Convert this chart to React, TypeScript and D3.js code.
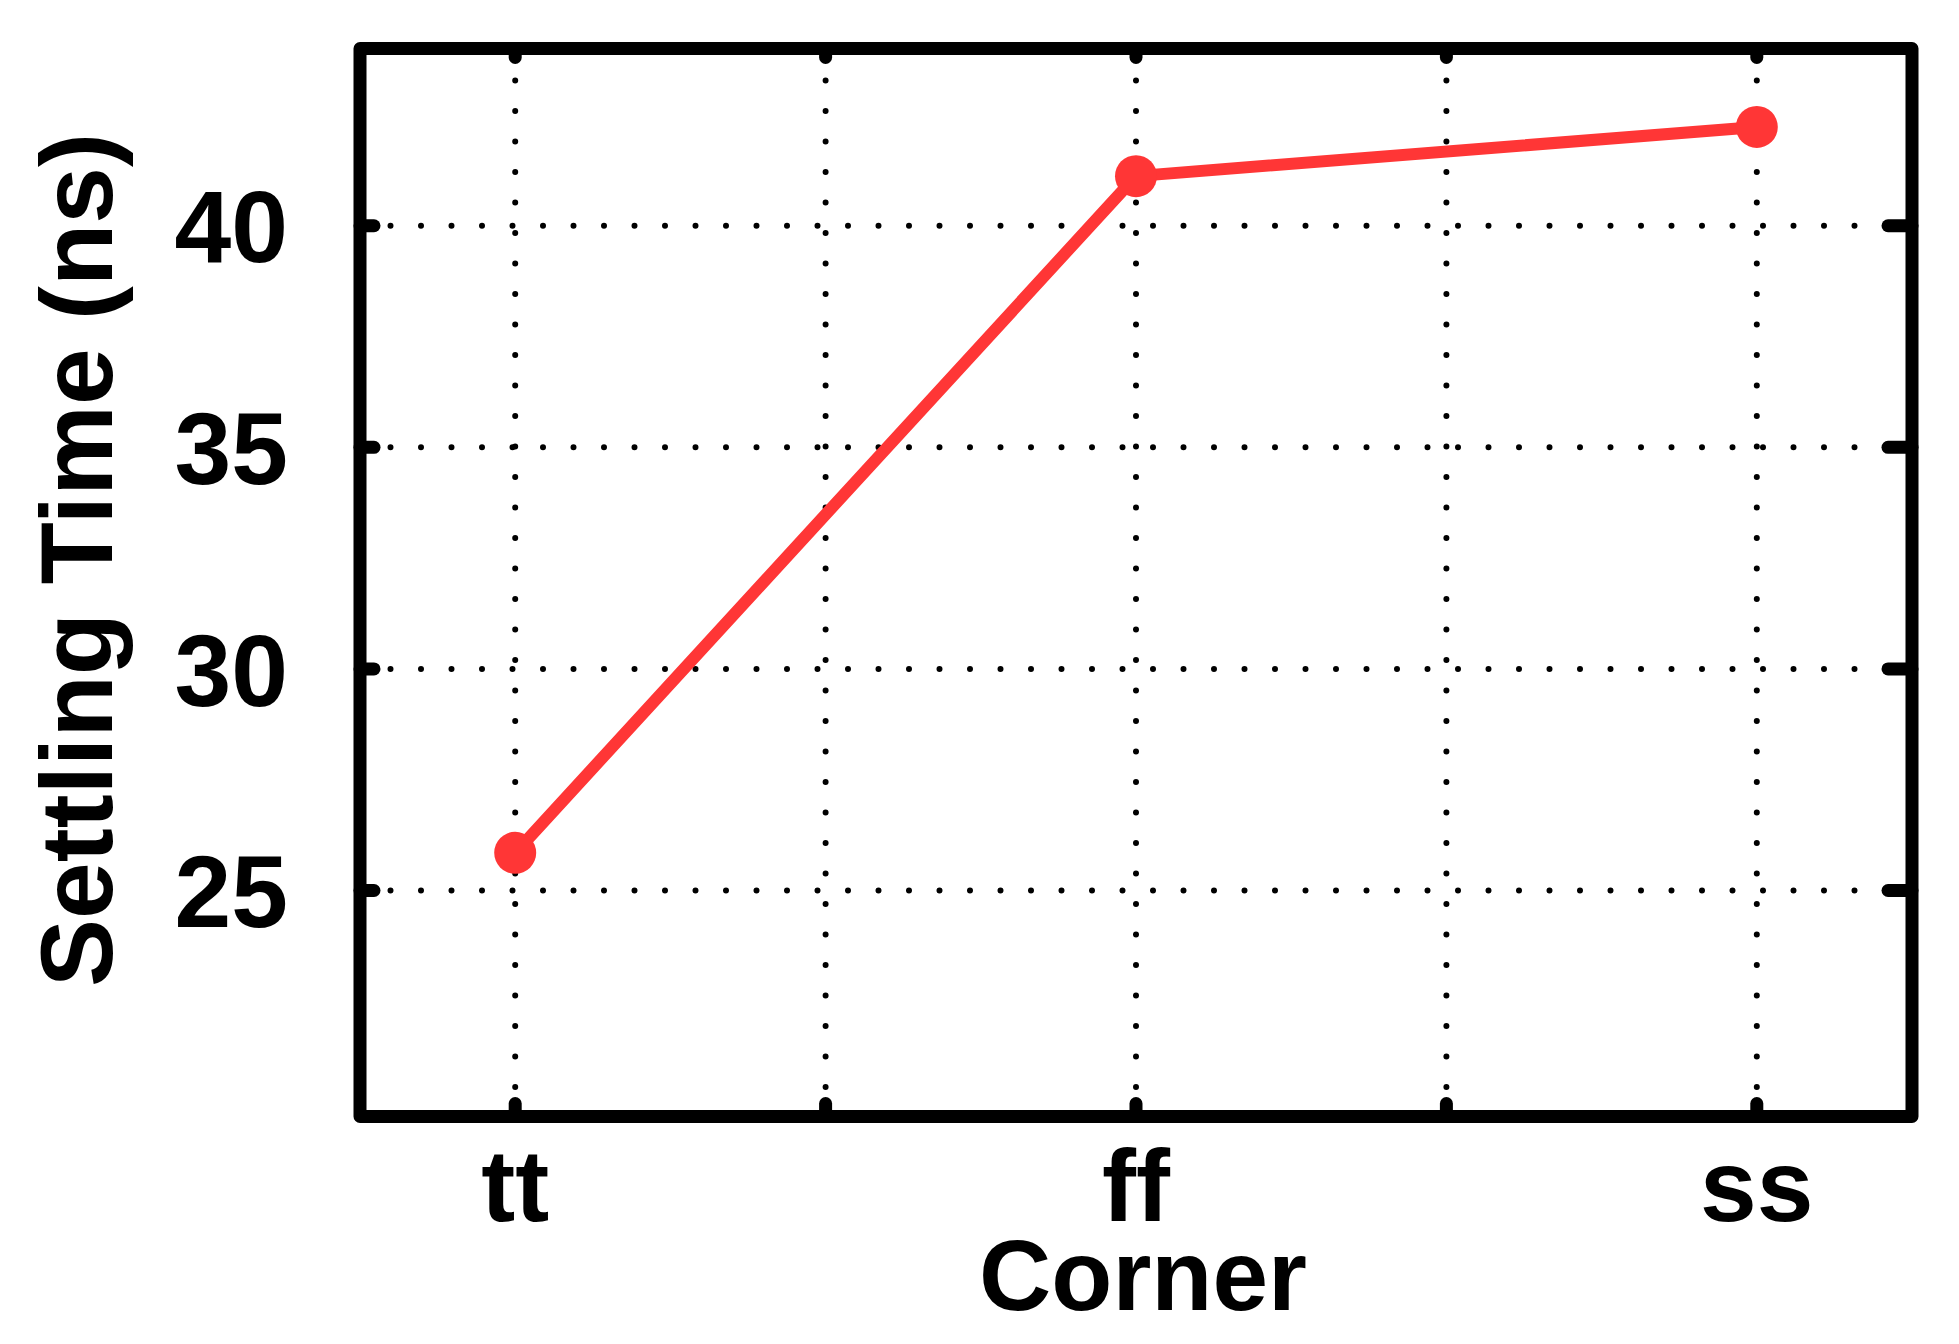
import React from 'react';
import * as d3 from 'd3';

// corner names and settling time in ns
const corners = ['tt', 'ff', 'ss'];
const settlingNs = [25.85, 41.12, 42.23];
const yTicks = [25, 30, 35, 40];
const xGridTicks = [1, 1.5, 2, 2.5, 3];

const W = 1959;
const H = 1344;
const left = 360, right = 1912, top = 48.5, bottom = 1116.5;
const font = '"Liberation Sans", Arial, sans-serif';
const red = '#ff3636';

const App = () => {
  const x = d3.scaleLinear().domain([0.75, 3.25]).range([left, right]);
  const y = d3.scaleLinear().domain([19.9, 44]).range([bottom, top]);

  const pts = settlingNs.map((v, i) => [x(i + 1), y(v)] as [number, number]);
  const line = d3.line()(pts) || '';

  return (
    <svg width={W} height={H} style={{ position: 'absolute', left: 0, top: 0, background: '#fff' }}>
      {/* dotted grid */}
      {xGridTicks.map(t => (
        <line key={'gx' + t} x1={x(t)} x2={x(t)} y1={top + 1.5} y2={bottom}
          stroke="#000" strokeWidth={6} strokeLinecap="round" strokeDasharray="0 30.5" />
      ))}
      {yTicks.map(t => (
        <line key={'gy' + t} x1={left} x2={right} y1={y(t)} y2={y(t)}
          stroke="#000" strokeWidth={6} strokeLinecap="round" strokeDasharray="0 30.5" />
      ))}

      {/* ticks, inward on all four sides */}
      {xGridTicks.map(t => (
        <g key={'tx' + t} stroke="#000" strokeWidth={13} strokeLinecap="round">
          <line x1={x(t)} x2={x(t)} y1={bottom} y2={bottom - 13} />
          <line x1={x(t)} x2={x(t)} y1={top} y2={top + 9} />
        </g>
      ))}
      {yTicks.map(t => (
        <g key={'ty' + t} stroke="#000" strokeWidth={13} strokeLinecap="round">
          <line x1={left} x2={left + 14} y1={y(t)} y2={y(t)} />
          <line x1={right} x2={right - 24} y1={y(t)} y2={y(t)} />
        </g>
      ))}

      {/* box */}
      <rect x={left} y={top} width={right - left} height={bottom - top}
        fill="none" stroke="#000" strokeWidth={13} strokeLinejoin="round" />

      {/* series */}
      <path d={line} fill="none" stroke={red} strokeWidth={12} strokeLinejoin="round" />
      {pts.map((p, i) => (
        <circle key={corners[i]} cx={p[0]} cy={p[1]} r={21} fill={red} />
      ))}

      {/* tick labels */}
      {yTicks.map(t => (
        <text key={'ly' + t} x={288} y={y(t)} dy="0.36em" textAnchor="end"
          fontFamily={font} fontWeight="bold" fontSize={102}>{t}</text>
      ))}
      {corners.map((c, i) => (
        <text key={'lx' + c} x={x(i + 1)} y={1221} textAnchor="middle"
          fontFamily={font} fontWeight="bold" fontSize={102}>{c}</text>
      ))}

      {/* axis titles */}
      <text x={1143} y={1310} textAnchor="middle" fontFamily={font} fontWeight="bold" fontSize={100}>Corner</text>
      <text transform="translate(112,560) rotate(-90)" textAnchor="middle"
        fontFamily={font} fontWeight="bold" fontSize={102}>Settling Time (ns)</text>
    </svg>
  );
};

export default App;
